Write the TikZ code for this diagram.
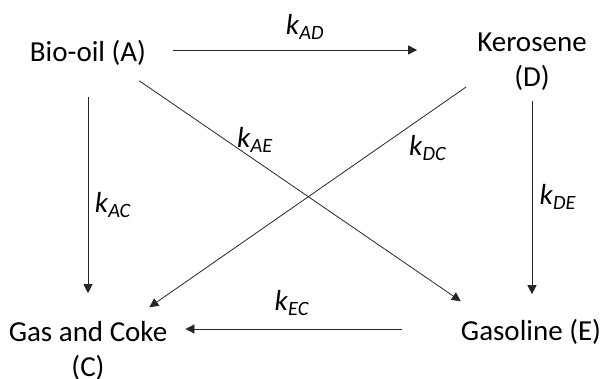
\documentclass[tikz,border=0pt]{standalone}
\usepackage{fontspec}
\setmainfont{Carlito}
\usetikzlibrary{arrows.meta,calc}

\tikzset{
  species/.style={inner sep=0pt, align=center, font=\fontsize{29}{35}\selectfont},
  rate/.style={inner sep=0pt, font=\fontsize{29}{35}\selectfont},
  flow/.style={-{Triangle[length=9pt,width=9pt]}, line width=0.8pt, black!85},
}
\newcommand{\kk}[1]{\textit{k}\textsubscript{\textit{#1}}}

\begin{document}
\begin{tikzpicture}[x=1pt,y=-1pt]
\useasboundingbox (0,0) rectangle (603,379);

% species
\node[species] (A) at (88,53) {Bio-oil (A)};
\node[species] (D) at (532,62) {Kerosene\\(D)};
\node[species] (C) at (88,351) {Gas and Coke\\(C)};
\node[species] (E) at (531,332) {Gasoline (E)};

% rate constants
\node[rate] (kAD) at (305,27) {\kk{AD}};
\node[rate] (kAE) at (255,140) {\kk{AE}};
\node[rate] (kDC) at (428,148) {\kk{DC}};
\node[rate] (kAC) at (113,205) {\kk{AC}};
\node[rate] (kDE) at (558,197) {\kk{DE}};
\node[rate] (kEC) at (292,303) {\kk{EC}};

% reactions
\draw[flow] ($(A.east)+(27,-3)$) -- ($(D.west)+(-60,-12)$);
\draw[flow] ($(A.south)+(0,31)$) -- ($(C.north)+(0,-28)$);
\draw[flow] ($(A.south east)+(-7,15)$) -- ($(E.north west)+(0,-18)$);
\draw[flow] ($(D.south west)+(-11,-4)$) -- ($(C.north east)+(-18,-14)$);
\draw[flow] ($(D.south)+(0,10)$) -- ($(D.south |- E.north)+(0,-25)$);
\draw[flow] ($(E.west)+(-59,-3)$) -- ($(C.east |- E.west)+(18,-3)$);
\end{tikzpicture}
\end{document}
